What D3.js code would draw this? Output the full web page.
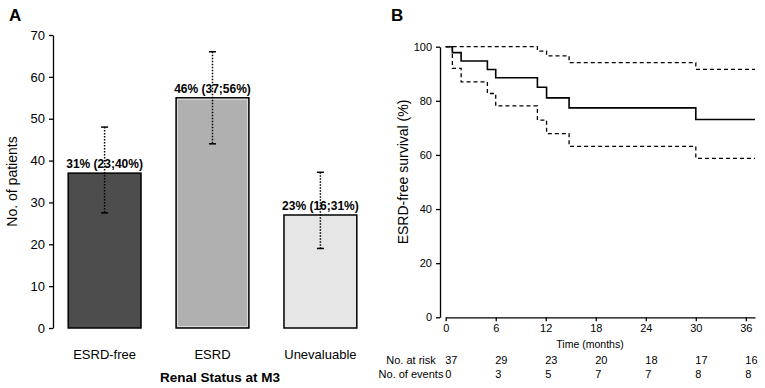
<!DOCTYPE html>
<html>
<head>
<meta charset="utf-8">
<script src="https://cdn.jsdelivr.net/npm/d3@7"></script>
<style>
  body { margin: 0; background: #fff; }
  svg { display: block; font-family: "Liberation Sans", Arial, sans-serif; }
  .axis path, .axis line { stroke: #000; stroke-width: 1.3; }
  .axis text { fill: #000; }
</style>
</head>
<body>
<svg width="765" height="388"></svg>
<script>
// panel A data
const categories = ["ESRD-free", "ESRD", "Unevaluable"];
const counts = [37, 55, 27];
const ciLow = [27.5, 44, 19];
const ciHigh = [48, 66, 37.2];
const pctLabels = ["31% (23;40%)", "46% (37;56%)", "23% (16;31%)"];
const aTicks = [0, 10, 20, 30, 40, 50, 60, 70];

// panel B data (Kaplan-Meier with 95% CI)
const kmTimes = [0, 0.8, 1.85, 5, 6, 11, 12.1, 14.8, 30, 37.1];
const survival = [100, 97.8, 94.7, 91.6, 88.5, 85.0, 81.1, 77.4, 73.1, 73.1];
const upperCI = [100, 100, 100, 100, 100, 98.4, 96.6, 94.1, 91.6, 91.6];
const lowerCI = [100, 92.0, 87.0, 82.7, 78.1, 72.9, 67.9, 63.2, 58.7, 58.7];
const bTicksY = [0, 20, 40, 60, 80, 100];
const riskTimes = [0, 6, 12, 18, 24, 30, 36];
const atRisk = [37, 29, 23, 20, 18, 17, 16];
const events = [0, 3, 5, 7, 7, 8, 8];

const fills = ["#4d4d4d", "#b0b0b0", "#e6e6e6"];
const innerEdge = [null, "#dcdcdc", null];

const svg = d3.select("svg");

// ---------- panel A ----------
const a = svg.append("g");
a.append("text").attr("x", 9).attr("y", 21)
  .attr("font-size", 17).attr("font-weight", "bold").text("A");

const xA = d3.scaleBand()
  .domain(categories)
  .range([52, 373])
  .paddingInner(0.325)
  .paddingOuter(0.15);
const yA = d3.scaleLinear().domain([0, 70]).range([328, 35]);

a.append("g").attr("class", "axis")
  .attr("transform", "translate(53,0)")
  .call(d3.axisLeft(yA).tickValues(aTicks).tickSize(4).tickSizeOuter(0).tickPadding(4))
  .call(g => g.selectAll("text").attr("font-size", 13).attr("font-family", "Liberation Sans, Arial"));

const bars = a.selectAll(".bar").data(categories).enter().append("g");
bars.append("rect")
  .attr("x", d => xA(d))
  .attr("y", (d, i) => yA(counts[i]))
  .attr("width", xA.bandwidth())
  .attr("height", (d, i) => yA(0) - yA(counts[i]))
  .attr("fill", (d, i) => fills[i])
  .attr("stroke", "#000").attr("stroke-width", 1.5);
bars.filter((d, i) => innerEdge[i])
  .append("rect")
  .attr("x", d => xA(d) + 1.5)
  .attr("y", (d) => yA(counts[categories.indexOf(d)]) + 1.5)
  .attr("width", xA.bandwidth() - 3)
  .attr("height", d => yA(0) - yA(counts[categories.indexOf(d)]) - 3)
  .attr("fill", "none")
  .attr("stroke", (d) => innerEdge[categories.indexOf(d)]).attr("stroke-width", 1);

// percentage labels
bars.append("text")
  .attr("x", d => xA(d) + xA.bandwidth() / 2)
  .attr("y", (d, i) => yA(counts[i]) - 5)
  .attr("text-anchor", "middle")
  .attr("font-size", 12).attr("font-weight", "bold")
  .text((d, i) => pctLabels[i]);

// error bars (dotted)
const cx = d => xA(d) + xA.bandwidth() / 2;
bars.append("line")
  .attr("x1", cx).attr("x2", cx)
  .attr("y1", (d, i) => yA(ciHigh[i])).attr("y2", (d, i) => yA(ciLow[i]))
  .attr("stroke", "#000").attr("stroke-width", 1.5)
  .attr("stroke-dasharray", "1.5,1.5");
[ciHigh, ciLow].forEach(arr => {
  bars.append("line")
    .attr("x1", d => cx(d) - 3.5).attr("x2", d => cx(d) + 3.5)
    .attr("y1", (d, i) => yA(arr[i])).attr("y2", (d, i) => yA(arr[i]))
    .attr("stroke", "#000").attr("stroke-width", 1.5);
});

// category labels
a.selectAll(".cat").data(categories).enter().append("text")
  .attr("x", d => xA(d) + xA.bandwidth() / 2)
  .attr("y", 358.5)
  .attr("text-anchor", "middle").attr("font-size", 13)
  .text(d => d);

a.append("text").attr("x", 220).attr("y", 381.5)
  .attr("text-anchor", "middle").attr("font-size", 13.5).attr("font-weight", "bold")
  .text("Renal Status at M3");

a.append("text")
  .attr("transform", "translate(17,181.5) rotate(-90)")
  .attr("text-anchor", "middle").attr("font-size", 14)
  .text("No. of patients");

// ---------- panel B ----------
const b = svg.append("g");
b.append("text").attr("x", 391).attr("y", 21)
  .attr("font-size", 17).attr("font-weight", "bold").text("B");

const xB = d3.scaleLinear().domain([0, 37.1]).range([445.7, 755]);
const yB = d3.scaleLinear().domain([0, 100]).range([317.3, 46.7]);

b.append("g").attr("class", "axis")
  .attr("transform", "translate(440,0)")
  .call(d3.axisLeft(yB).tickValues(bTicksY).tickSize(4).tickSizeOuter(0).tickPadding(4))
  .call(g => g.selectAll("text").attr("font-size", 11).attr("font-family", "Liberation Sans, Arial"));

b.append("g").attr("class", "axis")
  .attr("transform", "translate(0,317.3)")
  .call(d3.axisBottom(xB).tickValues(riskTimes).tickSize(4).tickSizeOuter(0).tickPadding(3))
  .call(g => g.selectAll("text").attr("font-size", 11).attr("font-family", "Liberation Sans, Arial"));

b.append("text").attr("x", 590).attr("y", 348)
  .attr("text-anchor", "middle").attr("font-size", 10.5)
  .text("Time (months)");

b.append("text")
  .attr("transform", "translate(407.5,172) rotate(-90)")
  .attr("text-anchor", "middle").attr("font-size", 14)
  .text("ESRD-free survival (%)");

const km = vals => d3.line()
  .curve(d3.curveStepAfter)
  .x((d, i) => xB(kmTimes[i]))
  .y((d, i) => yB(vals[i]))(kmTimes);

b.append("path").attr("d", km(upperCI))
  .attr("fill", "none").attr("stroke", "#000").attr("stroke-width", 1.3)
  .attr("stroke-dasharray", "4,3");
b.append("path").attr("d", km(lowerCI))
  .attr("fill", "none").attr("stroke", "#000").attr("stroke-width", 1.3)
  .attr("stroke-dasharray", "4,3");
b.append("path").attr("d", km(survival))
  .attr("fill", "none").attr("stroke", "#000").attr("stroke-width", 1.6);

// risk table
b.append("text").attr("x", 411).attr("y", 364)
  .attr("text-anchor", "middle").attr("font-size", 11).text("No. at risk");
b.append("text").attr("x", 411).attr("y", 377.5)
  .attr("text-anchor", "middle").attr("font-size", 11).text("No. of events");
b.selectAll(".risk").data(riskTimes).enter().append("text")
  .attr("x", d => xB(d) - 0.5).attr("y", 364)
  .attr("font-size", 11)
  .text((d, i) => atRisk[i]);
b.selectAll(".ev").data(riskTimes).enter().append("text")
  .attr("x", d => xB(d) - 0.5).attr("y", 377.5)
  .attr("font-size", 11)
  .text((d, i) => events[i]);
</script>
</body>
</html>
